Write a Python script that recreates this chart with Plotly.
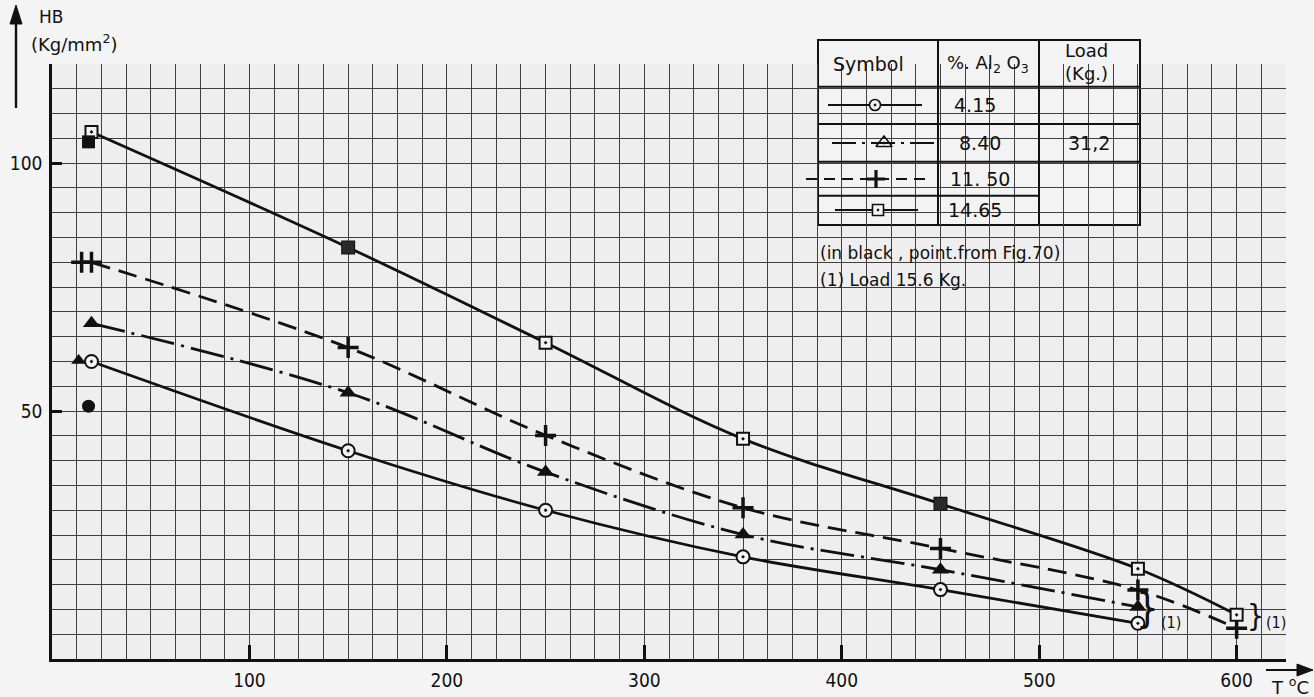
import plotly.graph_objects as go

# Hardness HB (Kg/mm2) versus temperature for four Al2O3 contents
temps = [20, 150, 250, 350, 450, 550]
temps_long = [20, 150, 250, 350, 450, 550, 600]
hb_415 = [60.0, 42.0, 30.0, 20.6, 14.0, 7.2]
hb_840 = [67.7, 53.7, 37.7, 25.1, 18.0, 10.5]
hb_1150 = [80.0, 62.8, 45.1, 30.5, 22.3, 13.9, 6.2]
hb_1465 = [106.3, 83.0, 63.8, 44.4, 31.3, 18.2, 8.9]

# points taken from Fig.70 (drawn in black)
fig70_t = [18.5, 15.0, 13.5, 18.5]
fig70_hb = [104.3, 80.0, 60.2, 51.0]
fig70_sym = ["square", "cross-thin-open", "triangle-up", "circle"]

# squares printed solid on the 14.65 curve
solid_sq_t = [150, 450]
solid_sq_hb = [83.0, 31.3]

x_ticks = [100, 200, 300, 400, 500, 600]
y_ticks = [50, 100]

# table rows
pct_labels = ["4.15", "8.40", "11. 50", "14.65"]
load_label = "31,2"

FONT = "DejaVu Sans"
FONT_C = "DejaVu Sans Condensed"
INK = "#111111"
BG = "#f4f4f4"

# plot-area geometry in pixels
W, H = 1314, 697
L, R, T, B = 52, 1286, 64, 659


def px(x):
    return (x - L) / (R - L)


def py(y):
    return (B - y) / (B - T)


fig = go.Figure()

line_style = dict(color=INK, width=2.8, shape="spline", smoothing=1.0)

fig.add_trace(go.Scatter(x=temps, y=hb_415, mode="lines",
                         line=dict(**line_style), hoverinfo="skip"))
fig.add_trace(go.Scatter(x=temps, y=hb_840, mode="lines",
                         line=dict(**line_style, dash="34px,7px,3px,7px"), hoverinfo="skip"))
fig.add_trace(go.Scatter(x=temps_long, y=hb_1150, mode="lines",
                         line=dict(**line_style, dash="19px,9px"), hoverinfo="skip"))
fig.add_trace(go.Scatter(x=temps_long, y=hb_1465, mode="lines",
                         line=dict(**line_style), hoverinfo="skip"))

# open markers: background-coloured base then outline with centre dot
fig.add_trace(go.Scatter(x=temps, y=hb_415, mode="markers",
                         marker=dict(symbol="circle", size=13, color=BG, opacity=1, line=dict(width=0))))
fig.add_trace(go.Scatter(x=temps, y=hb_415, mode="markers",
                         marker=dict(symbol="circle-open-dot", size=13, color=INK, opacity=1,
                                     line=dict(width=2))))
fig.add_trace(go.Scatter(x=temps, y=hb_840, mode="markers",
                         marker=dict(symbol="triangle-up", size=15, color=INK, opacity=1)))
fig.add_trace(go.Scatter(x=temps_long, y=hb_1150, mode="markers",
                         marker=dict(symbol="cross-thin-open", size=15, color=INK, opacity=1,
                                     line=dict(width=3.5, color=INK))))
fig.add_trace(go.Scatter(x=temps_long, y=hb_1465, mode="markers",
                         marker=dict(symbol="square", size=12, color=BG, opacity=1, line=dict(width=0))))
fig.add_trace(go.Scatter(x=temps_long, y=hb_1465, mode="markers",
                         marker=dict(symbol="square-open-dot", size=12, color=INK, opacity=1,
                                     line=dict(width=2))))
fig.add_trace(go.Scatter(x=solid_sq_t, y=solid_sq_hb, mode="markers",
                         marker=dict(symbol="square", size=12, color="#2a2a2a", opacity=1)))

# black points
for t, hb, sym in zip(fig70_t, fig70_hb, fig70_sym):
    is_cross = sym.startswith("cross")
    fig.add_trace(go.Scatter(x=[t], y=[hb], mode="markers",
                             marker=dict(symbol=sym, size=15 if is_cross else 13, color=INK, opacity=1,
                                         line=dict(width=3.5 if is_cross else 0, color=INK))))

# symbol samples in the table, on a pixel-scaled overlay axis
rows_y = [105, 143, 179, 210]
sample_x = [[828, 922], [832, 935], [806, 930], [835, 918]]
dashes = ["solid", "24px,6px,3px,6px", "11px,7px", "solid"]
for (x0, x1), yy, dsh in zip(sample_x, rows_y, dashes):
    fig.add_trace(go.Scatter(x=[x0, x1], y=[yy, yy], mode="lines", xaxis="x2", yaxis="y2",
                             line=dict(color=INK, width=1.8, dash=dsh), cliponaxis=False))
sym_x = [875, 884, 876, 878]
fig.add_trace(go.Scatter(x=[sym_x[0], sym_x[3]], y=[rows_y[0], rows_y[3]], mode="markers",
                         xaxis="x2", yaxis="y2", cliponaxis=False,
                         marker=dict(symbol=["circle", "square"], size=11, color=BG, opacity=1)))
for sx, sy, sym, sz, lw in zip(sym_x, rows_y,
                               ["circle-open-dot", "triangle-up-open-dot", "cross-thin-open", "square-open-dot"],
                               [11, 14, 13, 11], [1.6, 1.6, 3.2, 1.6]):
    fig.add_trace(go.Scatter(x=[sx], y=[sy], mode="markers", xaxis="x2", yaxis="y2", cliponaxis=False,
                             marker=dict(symbol=sym, size=sz, color=INK, opacity=1,
                                         line=dict(width=lw, color=INK))))

shapes = []
# table box
tx0, tx1, ty0, ty1 = 818, 1140, 40, 225
cols = [938, 1039]
hrows = [86.7, 124, 161.7, 195.7]
shapes.append(dict(type="rect", xref="paper", yref="paper", x0=px(tx0), x1=px(tx1),
                   y0=py(ty1), y1=py(ty0), fillcolor="#f3f3f3",
                   line=dict(color=INK, width=2), layer="below"))
for cx in cols:
    shapes.append(dict(type="line", xref="paper", yref="paper", x0=px(cx), x1=px(cx),
                       y0=py(ty1), y1=py(ty0), line=dict(color=INK, width=2)))
for i, hy in enumerate(hrows):
    x_end = tx1 if i < 3 else cols[1]
    shapes.append(dict(type="line", xref="paper", yref="paper", x0=px(tx0), x1=px(x_end),
                       y0=py(hy), y1=py(hy), line=dict(color=INK, width=2)))


def arrow_head(points):
    path = "M " + " L ".join(f"{px(x):.5f},{py(y):.5f}" for x, y in points) + " Z"
    return dict(type="path", xref="paper", yref="paper", path=path,
                fillcolor=INK, line=dict(color=INK, width=1))


# axis arrows
shapes.append(dict(type="line", xref="paper", yref="paper", x0=px(16), x1=px(16),
                   y0=py(108), y1=py(18), line=dict(color=INK, width=2.4)))
shapes.append(arrow_head([(10, 24), (16, 5), (22, 24)]))
shapes.append(dict(type="line", xref="paper", yref="paper", x0=px(1266), x1=px(1300),
                   y0=py(670), y1=py(670), line=dict(color=INK, width=1.8)))
shapes.append(arrow_head([(1297, 664), (1313, 670), (1297, 676)]))

annotations = []


def text(x, y, s, size=17, xanchor="center", yanchor="middle", family=FONT):
    annotations.append(dict(xref="paper", yref="paper", x=px(x), y=py(y), text=s,
                            showarrow=False, xanchor=xanchor, yanchor=yanchor,
                            font=dict(family=family, size=size, color=INK)))


text(868, 64, "Symbol", size=19)
text(988, 64, "%. Al<sub>2</sub> O<sub>3</sub>", size=18)
text(1086, 62, "Load<br>(Kg.)", size=18)
for s, yy, xx in zip(pct_labels, rows_y, [975, 980, 980, 975]):
    text(xx, yy, s, size=19)
text(1089, 143, load_label, size=19)
text(818, 253, "(in black , point.from Fig.70)", xanchor="left", size=17)
text(818, 280, "(1) Load 15.6 Kg.", xanchor="left", size=17)

# axis titles
text(37, 17, "HB", size=17, xanchor="left")
text(29, 43, "(Kg/mm<sup>2</sup>)", size=18, xanchor="left")
text(1290, 686, "T <sup>o</sup>C", size=18)

# braces marking the 15.6 Kg load points
annotations.append(dict(x=555, y=10.3, text="}", showarrow=False,
                        font=dict(family=FONT_C, size=40, color=INK)))
annotations.append(dict(x=567, y=7.3, text="(1)", showarrow=False,
                        font=dict(family=FONT_C, size=16, color=INK)))
annotations.append(dict(x=609.5, y=8.7, text="}", showarrow=False,
                        font=dict(family=FONT_C, size=30, color=INK)))
annotations.append(dict(x=620, y=7.3, text="(1)", showarrow=False,
                        font=dict(family=FONT_C, size=16, color=INK)))

grid = "#404040"
fig.update_layout(
    width=W, height=H,
    margin=dict(l=L, r=W - R, t=T, b=H - B, autoexpand=False),
    paper_bgcolor=BG, plot_bgcolor="#eeeeee",
    showlegend=False,
    shapes=shapes, annotations=annotations,
    xaxis=dict(range=[0, 625], tickvals=x_ticks, ticktext=[str(v) for v in x_ticks],
               automargin=False,
               showgrid=True, gridcolor=grid, gridwidth=1,
               minor=dict(dtick=12.5, tick0=0, showgrid=True, gridcolor=grid, gridwidth=1),
               ticks="inside", ticklen=14, tickwidth=3, tickcolor=INK,
               showline=True, linecolor=INK, linewidth=2.5, mirror=False, zeroline=False,
               tickfont=dict(family=FONT_C, size=19, color=INK), ticklabelstandoff=2),
    yaxis=dict(range=[0, 120], tickvals=y_ticks, ticktext=[str(v) for v in y_ticks],
               automargin=False,
               showgrid=True, gridcolor=grid, gridwidth=1,
               minor=dict(dtick=5, tick0=0, showgrid=True, gridcolor=grid, gridwidth=1),
               ticks="inside", ticklen=10, tickwidth=3, tickcolor=INK,
               showline=True, linecolor=INK, linewidth=2.5, zeroline=False,
               tickfont=dict(family=FONT_C, size=19, color=INK), ticklabelstandoff=3),
    xaxis2=dict(range=[L, R], overlaying="x", visible=False, domain=[0, 1]),
    yaxis2=dict(range=[B, T], overlaying="y", visible=False),
)

fig.write_html("out.html")
